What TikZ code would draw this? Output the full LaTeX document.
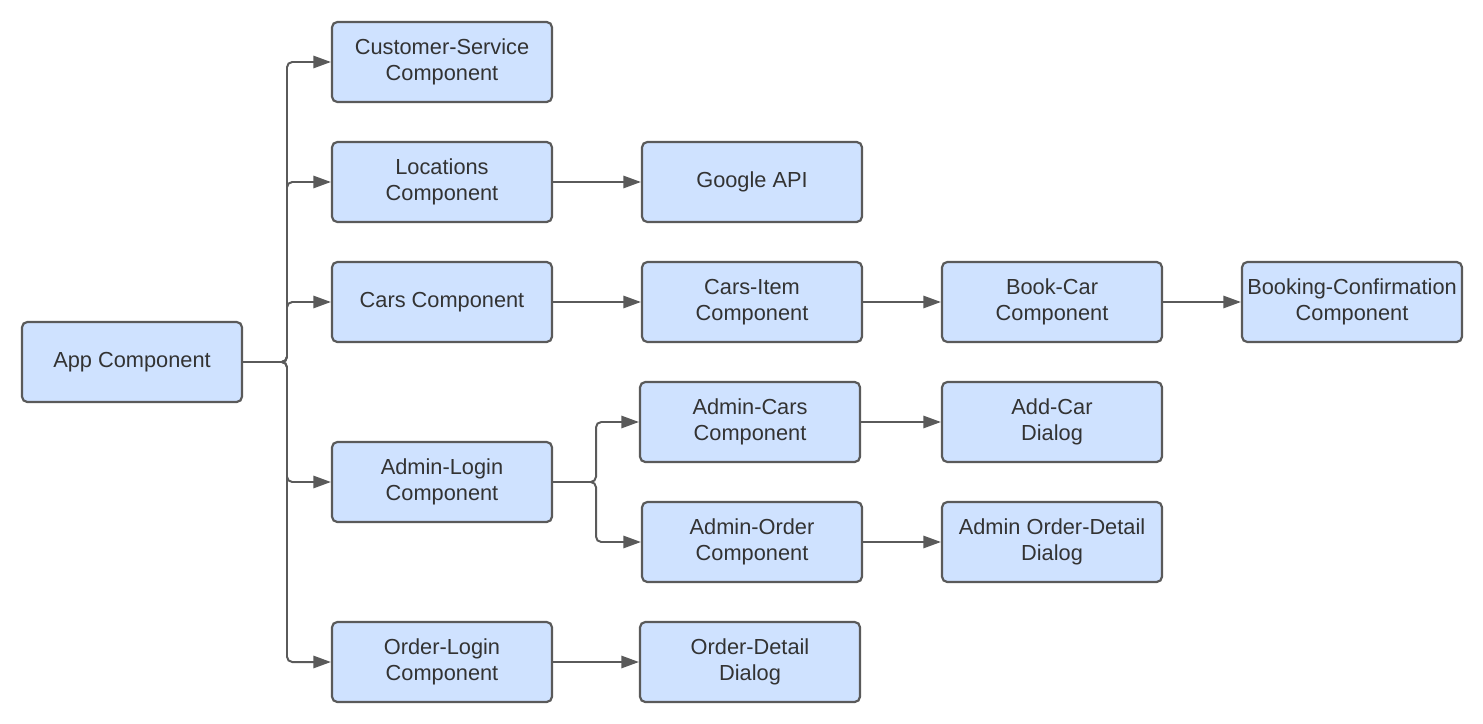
\documentclass[tikz,border=0pt]{standalone}
\usepackage{fontspec}
\setmainfont{Liberation Sans}
\usetikzlibrary{arrows.meta}
\definecolor{boxfill}{HTML}{CFE2FF}
\definecolor{boxline}{HTML}{5A5A5A}
\definecolor{boxtext}{HTML}{333333}
\tikzset{
    comp/.style={draw=boxline, fill=boxfill, line width=1.25pt, rounded corners=3pt,
        minimum width=4.4cm, minimum height=1.6cm, align=center, inner sep=1pt,
        text=boxtext, font=\fontsize{12.4}{14.7}\selectfont},
    link/.style={draw=boxline, line width=1.13pt, rounded corners=3pt,
        -{Triangle[length=10pt,width=7pt]}}
}

\begin{document}
\begin{tikzpicture}[x=0.02cm,y=-0.02cm]
        \useasboundingbox (0,0) rectangle (1483,723);
        % first column
        \node[comp] (app) at (132,362) {App Component};
        % second column
        \node[comp] (cs) at (442,62) {Customer-Service\\Component};
        \node[comp] (loc) at (442,182) {Locations\\Component};
        \node[comp] (cars) at (442,302) {Cars Component};
        \node[comp] (alogin) at (442,482) {Admin-Login\\Component};
        \node[comp] (ologin) at (442,662) {Order-Login\\Component};
        % third column
        \node[comp] (gapi) at (752,182) {Google API};
        \node[comp] (carsitem) at (752,302) {Cars-Item\\Component};
        \node[comp] (acars) at (750,422) {Admin-Cars\\Component};
        \node[comp] (aorder) at (752,542) {Admin-Order\\Component};
        \node[comp] (odetail) at (750,662) {Order-Detail\\Dialog};
        % fourth and fifth column
        \node[comp] (bookcar) at (1052,302) {Book-Car\\Component};
        \node[comp] (addcar) at (1052,422) {Add-Car\\Dialog};
        \node[comp] (aodetail) at (1052,542) {Admin Order-Detail\\Dialog};
        \node[comp] (bconf) at (1352,302) {Booking-Confirmation\\Component};

        \coordinate (trunk) at (287,362);
        \coordinate (fork) at (596,482);
        \foreach \child in {cs,loc,cars,alogin,ologin}
            \draw[link] (app.east) -- (trunk) |- (\child.west);
        \foreach \child in {acars,aorder}
            \draw[link] (alogin.east) -- (fork) |- (\child.west);
        \draw[link] (loc) -- (gapi);
        \draw[link] (cars) -- (carsitem);
        \draw[link] (carsitem) -- (bookcar);
        \draw[link] (bookcar) -- (bconf);
        \draw[link] (acars) -- (addcar);
        \draw[link] (aorder) -- (aodetail);
        \draw[link] (ologin) -- (odetail);
      \end{tikzpicture}
\end{document}
